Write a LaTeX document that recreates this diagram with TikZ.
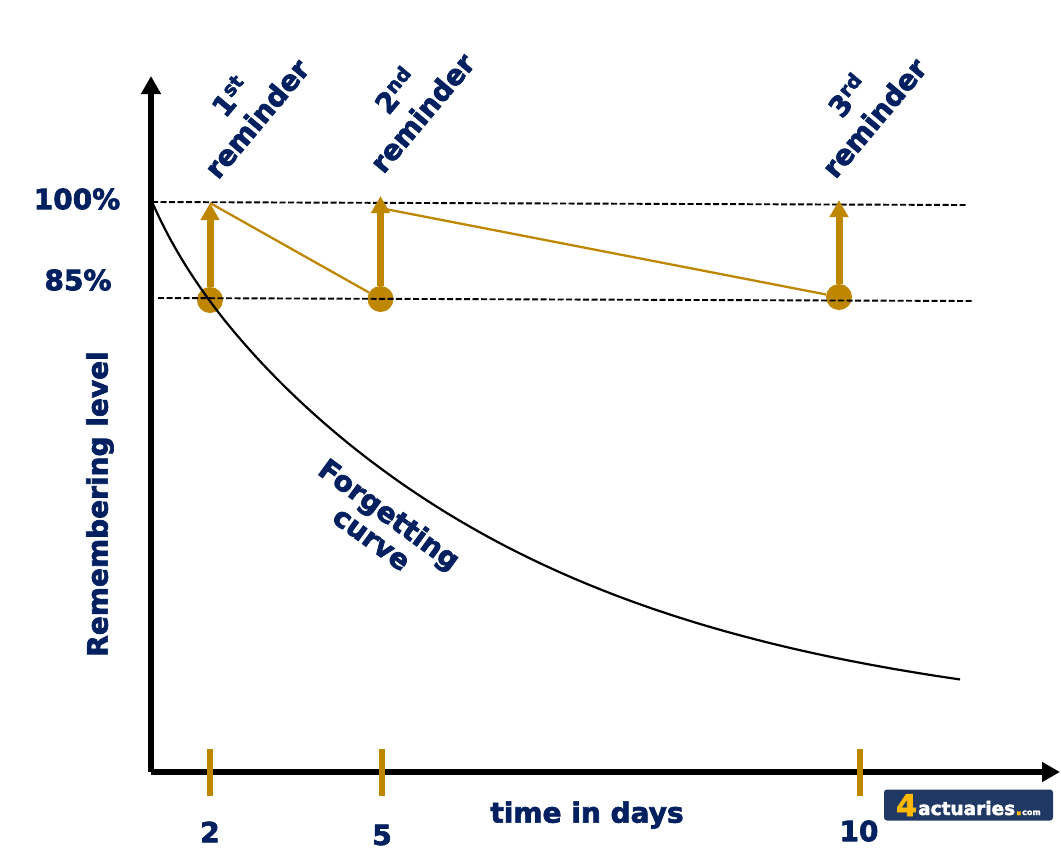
\documentclass[tikz,border=0pt]{standalone}
\usepackage{fontspec}
\setmainfont[BoldFeatures={FakeBold=2.4}]{DejaVu Sans}
\usetikzlibrary{arrows.meta}
\definecolor{navy}{RGB}{0,32,96}
\definecolor{gold}{RGB}{191,135,0}
\definecolor{logoblue}{RGB}{31,56,100}
\definecolor{logoyellow}{RGB}{255,184,0}
\begin{document}
\begin{tikzpicture}[x=1pt,y=-1pt,
    label node/.style={text=navy,font=\fontsize{28}{30}\selectfont\bfseries,inner sep=0pt},
    reminder node/.style={label node,rotate=50,align=center,font=\fontsize{28}{34}\selectfont\bfseries},
    dot node/.style={circle,fill=gold,minimum size=26pt,inner sep=0pt},
    axis line/.style={line width=6.5pt,-{Triangle[length=18pt,width=19pt]}},
    ref line/.style={black,line width=1.9pt,dash pattern=on 6pt off 2.5pt},
    rise line/.style={gold,line width=7pt,-{Triangle[length=17pt,width=18pt]}},
    drop line/.style={gold,line width=2.3pt},
    tick line/.style={gold,line width=6.5pt}]
  \useasboundingbox (0,0) rectangle (1061,868);

  \coordinate (origin) at (151,772);
  \coordinate (ytop) at (151,76);
  \coordinate (xend) at (1060,772);
  \coordinate (h1a) at (152,202);
  \coordinate (h1b) at (967,205);
  \coordinate (h2a) at (158,298);
  \coordinate (h2b) at (972,301);
  \coordinate (t1) at (210,203);
  \coordinate (t2) at (380.5,196);
  \coordinate (t3) at (839,200);
  \coordinate (s2) at (380,208);

  \node[dot node] (d1) at (210,300) {};
  \node[dot node] (d2) at (380.5,299) {};
  \node[dot node] (d3) at (839,297) {};

  % dashed levels
  \draw[ref line] (h1a) -- (h1b);
  \draw[ref line] (h2a) -- (h2b);

  % forgetting curve
  \draw[black,line width=2.2pt] plot[domain=0:808,samples=90,smooth] ({152+\x},{202+499*(1-exp(-\x/356))+30*(1-exp(-\x/35))});

  % axes
  \draw[axis line] (origin) -- (ytop);
  \draw[axis line] (origin) -- (xend);

  % reminders
  \draw[drop line] (t1) -- (d2);
  \draw[drop line] (s2) -- (d3);
  \draw[rise line] (d1) -- (t1);
  \draw[rise line] (d2) -- (t2);
  \draw[rise line] (d3) -- (t3);

  % ticks
  \foreach \name/\xpos in {a/210,b/382,c/860} {
    \coordinate (\name top) at (\xpos,749);
    \coordinate (\name bot) at (\xpos,796);
    \draw[tick line] (\name top) -- (\name bot);
  }

  \node[label node] (l100) at (77,199) {100\%};
  \node[label node] (l85) at (78,280) {85\%};
  \node[label node,rotate=90] (lrem) at (100,504) {Remembering level};
  \node[label node] (lt) at (587,815) {time in days};
  \node[label node] (l2) at (210,832) {2};
  \node[label node] (l5) at (382,835) {5};
  \node[label node] (l10) at (859,831) {10};
  \node[label node,rotate=-36,align=center] (lcurve) at (381,526) {Forgetting\\curve};

  \node[reminder node] (r1) at (243,107) {1\textsuperscript{st}\\reminder};
  \node[reminder node] (r2) at (408,101) {2\textsuperscript{nd}\\reminder};
  \node[reminder node] (r3) at (860,106) {3\textsuperscript{rd}\\reminder};

  % logo
  \node[fill=logoblue,rounded corners=3pt,minimum width=169pt,minimum height=31pt,inner sep=0pt] (logo) at (968.5,805) {};
  \node[inner sep=0pt,anchor=base west,text=white,font=\fontsize{18.5}{20}\selectfont\bfseries] (logotext) at (918,815) {actuaries\textcolor{logoyellow}{.}{\fontsize{8}{8}\selectfont com}};
  \node[inner sep=0pt,anchor=base west,text=logoyellow,font=\fontsize{30}{30}\selectfont\bfseries] (logofour) at (896,816) {4};
\end{tikzpicture}
\end{document}
